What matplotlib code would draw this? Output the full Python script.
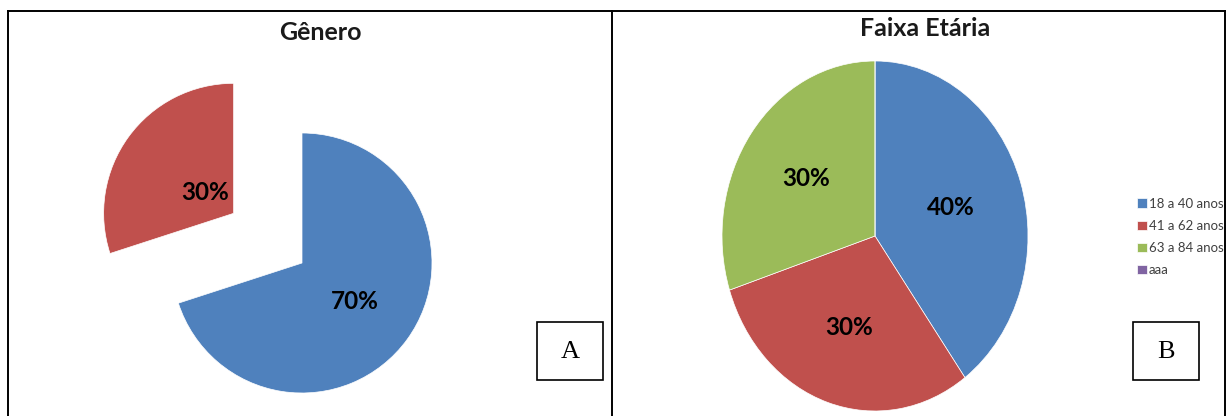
import matplotlib
matplotlib.use('Agg')
import matplotlib.pyplot as plt
from matplotlib.patches import Rectangle
import numpy as np

W, H = 1226, 416
DPI = 100

# ---- data ----
genero_title = "Gênero"
genero_labels = ["Feminino", "Masculino"]
genero_values = [70, 30]
genero_colors = ["#4F81BD", "#C0504D"]
genero_explode = [0, 0.65]

faixa_title = "Faixa Etária"
faixa_labels = ["18 a 40 anos", "41 a 62 anos", "63 a 84 anos", "aaa"]
faixa_values = [40, 30, 30, 0]
faixa_colors = ["#4F81BD", "#C0504D", "#9BBB59", "#8064A2"]

panel_tags = ["A", "B"]

plt.rcParams['font.family'] = ['Lato', 'DejaVu Sans']

fig = plt.figure(figsize=(W / DPI, H / DPI), dpi=DPI)


def px_axes(x0, y0, x1, y1):
    return fig.add_axes([x0 / W, 1 - y1 / H, (x1 - x0) / W, (y1 - y0) / H])


# background / frame axes in pixel coordinates
bg = px_axes(0, 0, W, H)
bg.set_xlim(0, W)
bg.set_ylim(H, 0)
bg.axis('off')
lw = 1.4
bg.plot([8, W], [11, 11], color='black', lw=lw)
bg.plot([8, 8], [11, H], color='black', lw=lw)
bg.plot([612, 612], [11, H], color='black', lw=lw)
bg.plot([W - 1.5, W - 1.5], [11, H], color='black', lw=lw)

for (bx, by), tag in zip([(537, 322), (1133, 322)], panel_tags):
    bg.add_patch(Rectangle((bx, by), 66, 58, fill=False, ec='black', lw=1.2))
    bg.text(bx + 33, by + 30, tag, family='Liberation Serif', fontsize=19,
            ha='center', va='center', color='black')

bg.text(320, 33, genero_title, fontsize=18, fontweight='bold', ha='center',
        va='center', color='#1a1a1a')
bg.text(925, 28, faixa_title, fontsize=18, fontweight='bold', ha='center',
        va='center', color='#1a1a1a')


def pie_panel(x0, y0, x1, y1, cx, cy, rx, ry):
    ax = px_axes(x0, y0, x1, y1)
    xl = ((x0 - cx) / rx, (x1 - cx) / rx)
    yl = ((cy - y1) / ry, (cy - y0) / ry)
    return ax, xl, yl


def place_labels(wedges, texts, dists):
    for w, t, d in zip(wedges, texts, dists):
        th = np.deg2rad((w.theta1 + w.theta2) / 2)
        c = w.center
        t.set_position((c[0] + d * w.r * np.cos(th), c[1] + d * w.r * np.sin(th)))


pct = lambda p: f"{p:.0f}%" if p > 0.5 else ""
label_style = dict(fontsize=17.5, fontweight='bold', color='black')
legA_style = dict(frameon=False, fontsize=10.5, handlelength=0.68, handleheight=0.68,
                  handletextpad=0.12, labelspacing=0.62, borderpad=0,
                  borderaxespad=0, labelcolor='#404040')
legB_style = dict(frameon=False, fontsize=9.5, handlelength=0.76, handleheight=0.76,
                  handletextpad=0.12, labelspacing=0.76, borderpad=0,
                  borderaxespad=0, labelcolor='#404040')

# ---- Pie A ----
axA, xlA, ylA = pie_panel(20, 15, 600, 410, 302, 263, 130, 130)
wA, _, tA = axA.pie(genero_values, colors=genero_colors, explode=genero_explode,
                    startangle=90, counterclock=False, autopct=pct,
                    wedgeprops=dict(edgecolor='white', linewidth=0.5),
                    textprops=label_style)
place_labels(wA, tA, [0.5, 0.27])
axA.set_aspect('auto')
axA.set_xlim(*xlA)
axA.set_ylim(*ylA)
axA.axis('off')

bg.legend(wA, genero_labels, loc='center left', bbox_to_anchor=(467, 254),
          bbox_transform=bg.transData, **legA_style)

# ---- Pie B ----
axB, xlB, ylB = pie_panel(620, 15, 1100, 415, 875, 236, 153, 175)
wB, _, tB = axB.pie(faixa_values, colors=faixa_colors, startangle=90,
                    counterclock=False, autopct=pct,
                    wedgeprops=dict(edgecolor='white', linewidth=0.5),
                    textprops=label_style)
place_labels(wB, tB, [0.52, 0.55, 0.56, 0.5])
axB.set_aspect('auto')
axB.set_xlim(*xlB)
axB.set_ylim(*ylB)
axB.axis('off')

bg.legend(wB, faixa_labels, loc='center left', bbox_to_anchor=(1137, 237),
          bbox_transform=bg.transData, **legB_style)

fig.savefig('out.png', dpi=DPI)
